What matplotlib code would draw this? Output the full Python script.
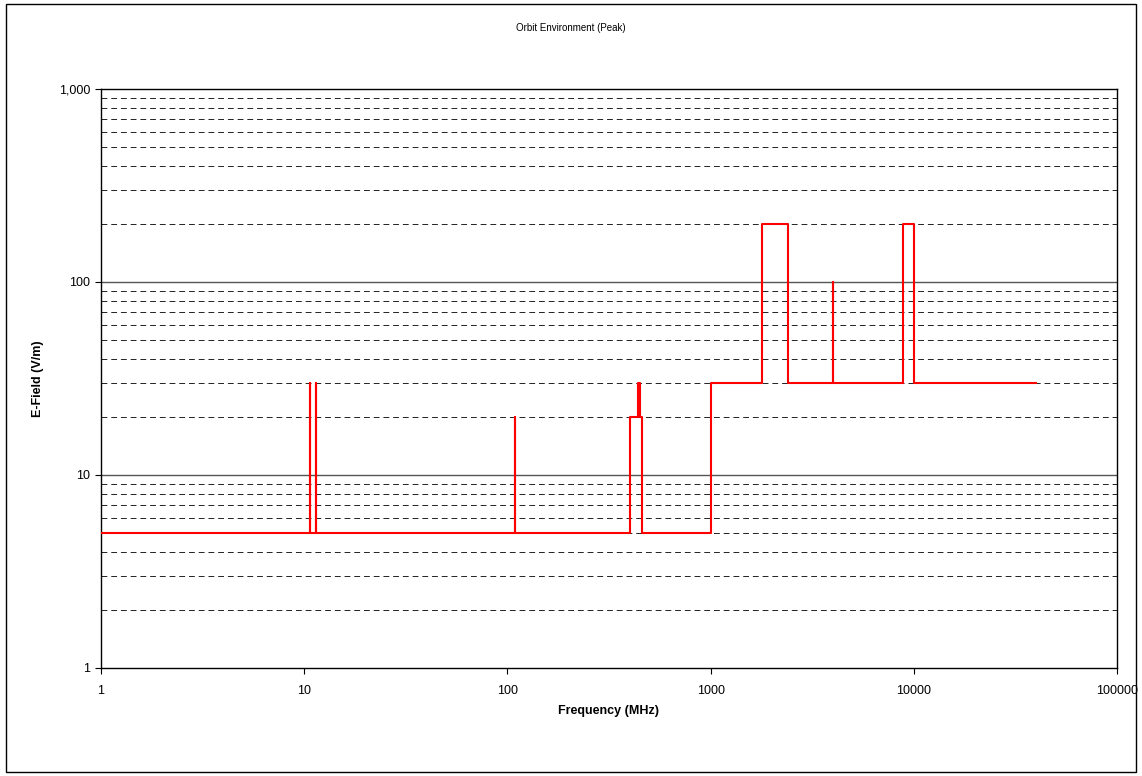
import matplotlib.pyplot as plt
from matplotlib.patches import Rectangle
from matplotlib.ticker import FixedLocator, FuncFormatter, NullLocator

plt.rcParams['font.family'] = ['Liberation Sans', 'DejaVu Sans']

# step outline of the peak environment (frequency in MHz, field in V/m)
freq_mhz = [1, 10.7, 10.7, 10.7, 11.5, 11.5, 11.5, 109, 109, 109,
            400, 400, 440, 440, 450, 450, 460, 460,
            1000, 1000, 1800, 1800, 2400, 2400, 4000, 4000, 4000,
            8800, 8800, 10000, 10000, 40000]
efield = [5, 5, 30, 5, 5, 30, 5, 5, 20, 5,
          5, 20, 20, 30, 30, 20, 20, 5,
          5, 30, 30, 200, 200, 30, 30, 100, 30,
          30, 200, 200, 30, 30]

x_ticks = [1, 10, 100, 1000, 10000, 100000]
y_ticks = [1, 10, 100, 1000]
y_minor = [m * d for d in (1, 10, 100) for m in range(2, 10)]

fig = plt.figure(figsize=(11.42, 7.76), dpi=100)
ax = fig.add_axes([0.0884, 0.1392, 0.8897, 0.7461])

# gridlines
for v in y_minor:
    ax.axhline(v, color='#222222', lw=0.7, ls=(0, (6, 4)), zorder=1)
for v in (10, 100):
    ax.axhline(v, color='#555555', lw=1.0, zorder=1)

ax.plot(freq_mhz, efield, color='#ff0000', lw=1.5, zorder=3)

ax.set_xscale('log')
ax.set_yscale('log')
ax.set_xlim(1, 100000)
ax.set_ylim(1, 1000)

ax.xaxis.set_major_locator(FixedLocator(x_ticks))
ax.yaxis.set_major_locator(FixedLocator(y_ticks))
ax.xaxis.set_minor_locator(NullLocator())
ax.yaxis.set_minor_locator(NullLocator())
ax.xaxis.set_major_formatter(FuncFormatter(lambda v, p: f'{v:.0f}'))
ax.yaxis.set_major_formatter(FuncFormatter(lambda v, p: f'{v:,.0f}'))
ax.tick_params(axis='both', labelsize=9, direction='out', length=4, width=0.8)
ax.tick_params(axis='x', pad=8)

for s in ax.spines.values():
    s.set_linewidth(1.0)
    s.set_color('black')

ax.set_xlabel('Frequency (MHz)', fontsize=9, fontweight='bold', labelpad=6)
ax.set_ylabel('E-Field (V/m)', fontsize=9, fontweight='bold', labelpad=11)
fig.text(0.5, 1 - 28 / 776, 'Orbit Environment (Peak)', ha='center', va='center', fontsize=7)

# outer chart border
fig.patches.append(Rectangle((6 / 1142, 4 / 776), 1130 / 1142, 768 / 776,
                             transform=fig.transFigure, fill=False,
                             edgecolor='black', lw=1.0))

fig.savefig('out.png', dpi=100)
